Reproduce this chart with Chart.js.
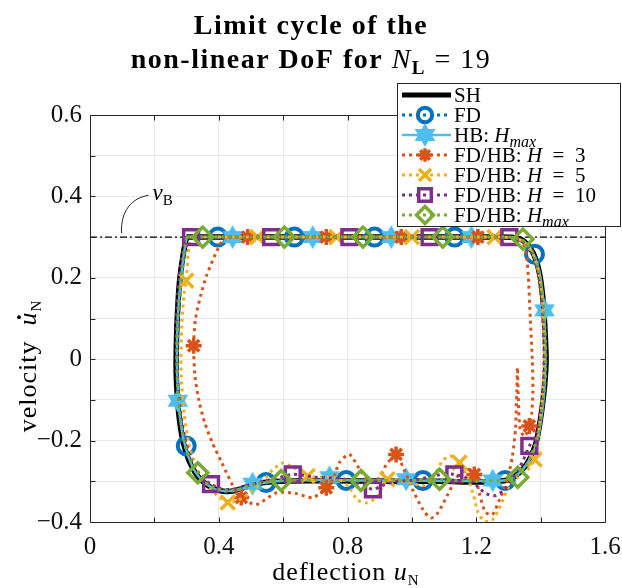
<!DOCTYPE html>
<html>
<head>
<meta charset="utf-8">
<script src="https://cdn.jsdelivr.net/npm/chart.js@4.4.0/dist/chart.umd.min.js"></script>
<style>
    html, body { margin: 0; padding: 0; background: #fff; }
</style>
</head>
<body>
<canvas id="limitCycle" width="622" height="588"></canvas>
<script>
// axis limits and tick labels
const xLimits = [0, 1.6];
const yLimits = [-0.4, 0.6];
const xTickValues = [0, 0.4, 0.8, 1.2, 1.6];
const xTickLabels = ['0', '0.4', '0.8', '1.2', '1.6'];
const yTickValues = [-0.4, -0.2, 0, 0.2, 0.4, 0.6];
const yTickLabels = ['\u22120.4', '\u22120.2', '0', '0.2', '0.4', '0.6'];
const vB = 0.3;

// trajectories [deflection, velocity]
const shPath = [[0.30,0.30],[0.45,0.30],[0.65,0.30],[0.85,0.30],[1.05,0.30],[1.25,0.30],[1.315,0.299],[1.348,0.29],[1.376,0.262],[1.396,0.213],[1.407,0.15],[1.413,0.08],[1.417,0.0],[1.413,-0.06],[1.406,-0.11],[1.397,-0.16],[1.385,-0.208],[1.366,-0.245],[1.345,-0.27],[1.32,-0.288],[1.29,-0.298],[1.2,-0.302],[1.1,-0.3],[0.96,-0.3],[0.8,-0.299],[0.62,-0.299],[0.54,-0.303],[0.495,-0.311],[0.455,-0.322],[0.42,-0.325],[0.39,-0.32],[0.36,-0.307],[0.332,-0.285],[0.308,-0.25],[0.29,-0.205],[0.279,-0.155],[0.272,-0.1],[0.268,-0.04],[0.268,0.02],[0.271,0.1],[0.278,0.19],[0.29,0.26],[0.30,0.30]];
const fdPath = [[0.30,0.30],[0.45,0.30],[0.65,0.30],[0.85,0.30],[1.05,0.30],[1.25,0.30],[1.32,0.298],[1.352,0.285],[1.38,0.255],[1.398,0.205],[1.408,0.14],[1.414,0.06],[1.415,-0.02],[1.41,-0.09],[1.4,-0.15],[1.387,-0.205],[1.368,-0.245],[1.345,-0.272],[1.315,-0.29],[1.28,-0.298],[1.15,-0.3],[1.0,-0.298],[0.85,-0.298],[0.7,-0.298],[0.58,-0.3],[0.51,-0.31],[0.46,-0.322],[0.42,-0.326],[0.385,-0.318],[0.352,-0.3],[0.325,-0.272],[0.305,-0.235],[0.29,-0.19],[0.279,-0.13],[0.272,-0.06],[0.27,0.02],[0.274,0.1],[0.282,0.18],[0.29,0.24],[0.30,0.30]];
const hbPath = [[0.30,0.30],[0.45,0.30],[0.65,0.30],[0.85,0.30],[1.05,0.30],[1.25,0.30],[1.318,0.298],[1.35,0.288],[1.378,0.258],[1.397,0.21],[1.408,0.145],[1.413,0.07],[1.415,-0.01],[1.411,-0.08],[1.403,-0.14],[1.39,-0.2],[1.368,-0.243],[1.345,-0.27],[1.318,-0.289],[1.285,-0.298],[1.15,-0.299],[1.0,-0.298],[0.85,-0.298],[0.7,-0.297],[0.58,-0.3],[0.51,-0.308],[0.46,-0.32],[0.42,-0.324],[0.388,-0.319],[0.356,-0.303],[0.328,-0.278],[0.306,-0.24],[0.29,-0.195],[0.279,-0.14],[0.273,-0.08],[0.27,0.0],[0.272,0.09],[0.28,0.18],[0.29,0.25],[0.30,0.30]];
const h3Path = [[0.42,0.30],[0.6,0.30],[0.8,0.30],[1.0,0.30],[1.2,0.30],[1.31,0.299],[1.342,0.29],[1.356,0.255],[1.362,0.2],[1.368,0.1],[1.374,0.0],[1.376,-0.08],[1.372,-0.135],[1.365,-0.164],[1.35,-0.19],[1.336,-0.17],[1.33,-0.08],[1.328,-0.02],[1.326,-0.08],[1.322,-0.17],[1.312,-0.24],[1.295,-0.3],[1.272,-0.345],[1.25,-0.382],[1.228,-0.375],[1.21,-0.33],[1.194,-0.283],[1.17,-0.27],[1.14,-0.29],[1.11,-0.335],[1.08,-0.378],[1.058,-0.39],[1.035,-0.37],[1.005,-0.325],[0.975,-0.27],[0.951,-0.234],[0.92,-0.26],[0.895,-0.295],[0.87,-0.3],[0.845,-0.28],[0.806,-0.234],[0.775,-0.254],[0.755,-0.295],[0.734,-0.316],[0.692,-0.34],[0.64,-0.33],[0.58,-0.328],[0.516,-0.357],[0.47,-0.34],[0.444,-0.311],[0.41,-0.255],[0.38,-0.205],[0.356,-0.155],[0.338,-0.1],[0.326,-0.04],[0.322,0.033],[0.328,0.1],[0.345,0.16],[0.362,0.205],[0.385,0.25],[0.405,0.283],[0.42,0.30]];
const h5Path = [[0.31,0.30],[0.45,0.30],[0.65,0.30],[0.85,0.30],[1.05,0.30],[1.25,0.30],[1.32,0.298],[1.352,0.285],[1.378,0.255],[1.396,0.205],[1.406,0.14],[1.41,0.06],[1.41,-0.02],[1.405,-0.09],[1.398,-0.15],[1.39,-0.2],[1.381,-0.246],[1.36,-0.272],[1.33,-0.29],[1.3,-0.315],[1.275,-0.36],[1.25,-0.395],[1.225,-0.398],[1.205,-0.375],[1.19,-0.33],[1.17,-0.285],[1.148,-0.254],[1.12,-0.238],[1.095,-0.25],[1.07,-0.285],[1.04,-0.31],[1.0,-0.305],[0.96,-0.298],[0.924,-0.295],[0.89,-0.34],[0.858,-0.353],[0.83,-0.345],[0.8,-0.31],[0.76,-0.29],[0.72,-0.29],[0.676,-0.287],[0.635,-0.268],[0.6,-0.255],[0.57,-0.27],[0.53,-0.305],[0.49,-0.333],[0.455,-0.348],[0.428,-0.352],[0.395,-0.335],[0.36,-0.305],[0.33,-0.265],[0.308,-0.21],[0.292,-0.13],[0.283,-0.03],[0.285,0.08],[0.292,0.16],[0.299,0.193],[0.305,0.26],[0.31,0.30]];
const h10Path = [[0.30,0.30],[0.45,0.30],[0.65,0.30],[0.85,0.30],[1.05,0.30],[1.25,0.30],[1.318,0.298],[1.35,0.285],[1.378,0.255],[1.395,0.2],[1.405,0.13],[1.41,0.05],[1.41,-0.03],[1.405,-0.1],[1.395,-0.16],[1.38,-0.195],[1.365,-0.213],[1.345,-0.25],[1.32,-0.285],[1.29,-0.318],[1.26,-0.335],[1.23,-0.33],[1.2,-0.31],[1.165,-0.29],[1.132,-0.283],[1.1,-0.282],[1.05,-0.29],[1.0,-0.298],[0.95,-0.3],[0.91,-0.31],[0.879,-0.32],[0.85,-0.31],[0.8,-0.296],[0.75,-0.292],[0.7,-0.29],[0.66,-0.285],[0.63,-0.283],[0.59,-0.29],[0.54,-0.3],[0.49,-0.31],[0.44,-0.32],[0.405,-0.318],[0.376,-0.307],[0.345,-0.288],[0.318,-0.255],[0.298,-0.205],[0.283,-0.14],[0.273,-0.06],[0.268,0.03],[0.27,0.12],[0.277,0.2],[0.288,0.26],[0.30,0.30]];
const hmaxPath = [[0.30,0.30],[0.45,0.30],[0.65,0.30],[0.85,0.30],[1.05,0.30],[1.25,0.30],[1.318,0.299],[1.35,0.289],[1.377,0.26],[1.396,0.212],[1.407,0.148],[1.413,0.075],[1.416,0.0],[1.412,-0.07],[1.404,-0.125],[1.393,-0.18],[1.378,-0.222],[1.357,-0.258],[1.329,-0.285],[1.295,-0.297],[1.2,-0.299],[1.086,-0.297],[0.95,-0.298],[0.842,-0.298],[0.7,-0.298],[0.594,-0.298],[0.52,-0.305],[0.47,-0.318],[0.43,-0.323],[0.395,-0.319],[0.362,-0.305],[0.335,-0.279],[0.31,-0.245],[0.292,-0.2],[0.28,-0.145],[0.273,-0.085],[0.27,-0.01],[0.272,0.08],[0.279,0.17],[0.29,0.25],[0.30,0.30]];

// marker positions along each trajectory
const fdMarks = [[0.397,0.30],[0.635,0.30],[0.884,0.30],[1.133,0.30],[1.381,0.258],[1.29,-0.298],[1.034,-0.298],[0.796,-0.298],[0.547,-0.303],[0.299,-0.213]];
const hbMarks = [[0.443,0.30],[0.692,0.30],[0.936,0.30],[1.185,0.30],[1.412,0.12],[1.251,-0.298],[0.982,-0.295],[0.744,-0.29],[0.505,-0.306],[0.273,-0.102]];
const h3Marks = [[0.49,0.30],[0.734,0.30],[0.967,0.30],[1.205,0.30],[1.365,-0.164],[1.194,-0.283],[0.951,-0.234],[0.734,-0.316],[0.47,-0.34],[0.322,0.033]];
const h5Marks = [[0.52,0.30],[0.766,0.30],[1.0,0.30],[1.257,0.30],[1.381,-0.246],[1.148,-0.254],[0.924,-0.295],[0.676,-0.287],[0.428,-0.352],[0.299,0.193]];
const h10Marks = [[0.314,0.30],[0.563,0.30],[0.806,0.30],[1.055,0.30],[1.303,0.30],[1.365,-0.213],[1.132,-0.283],[0.879,-0.32],[0.63,-0.283],[0.376,-0.307]];
const hmaxMarks = [[0.35,0.30],[0.604,0.30],[0.848,0.30],[1.096,0.30],[1.345,0.295],[1.329,-0.29],[1.086,-0.295],[0.842,-0.298],[0.594,-0.298],[0.335,-0.279]];

const SERIF = "'Liberation Serif', 'Times New Roman', serif";

// six-pointed star marker
function makeHexagram(color) {
    const c = document.createElement('canvas');
    c.width = 28; c.height = 28;
    const g = c.getContext('2d');
    g.beginPath();
    for (let k = 0; k < 12; k++) {
        const r = k % 2 === 0 ? 12 : 6.8;
        const ang = -Math.PI / 2 + k * Math.PI / 6;
        const px = 14 + r * Math.cos(ang), py = 14 + r * Math.sin(ang);
        if (k === 0) g.moveTo(px, py); else g.lineTo(px, py);
    }
    g.closePath();
    g.fillStyle = color;
    g.fill();
    return c;
}
const hexImg = makeHexagram('#4DBEEE');

const series = [
    { path: shPath, marks: null, color: '#000000', width: 5.5, dash: [] },
    { path: fdPath, marks: fdMarks, color: '#0072BD', width: 3, dash: [3, 4], point: 'circle', r: 8.5, bw: 4 },
    { path: hbPath, marks: hbMarks, color: '#4DBEEE', width: 2.5, dash: [], point: hexImg, r: 10, bw: 2 },
    { path: h3Path, marks: h3Marks, color: '#D95319', width: 3, dash: [3, 4], point: 'star', r: 8, bw: 3.5 },
    { path: h5Path, marks: h5Marks, color: '#EDB120', width: 3, dash: [3, 4], point: 'crossRot', r: 10, bw: 3.5 },
    { path: h10Path, marks: h10Marks, color: '#7E2F8E', width: 3, dash: [3, 4], point: 'rect', r: 10.5, bw: 3.5 },
    { path: hmaxPath, marks: hmaxMarks, color: '#77AC30', width: 3, dash: [3, 4], point: 'rectRot', r: 10, bw: 3.5 }
];

function toPoints(list) {
    return list.map(p => ({ x: p[0], y: p[1] }));
}

const datasets = [{
    data: [{ x: xLimits[0], y: vB }, { x: xLimits[1], y: vB }],
    showLine: true, pointRadius: 0, borderColor: '#000', borderWidth: 1.2,
    borderDash: [7, 3, 2, 3], order: 200
}];
series.forEach((s, i) => {
    datasets.push({
        data: toPoints(s.path), showLine: true, pointRadius: 0,
        borderColor: s.color, borderWidth: s.width, borderDash: s.dash,
        tension: 0.25, order: 100 - 2 * i
    });
    if (s.marks) {
        datasets.push({
            data: toPoints(s.marks), showLine: false,
            pointStyle: s.point, pointRadius: s.r, pointBorderWidth: s.bw,
            pointBorderColor: s.color, pointBackgroundColor: 'rgba(0,0,0,0)',
            order: 100 - 2 * i - 1
        });
    }
});

function tickLabel(values, labels) {
    return function(v) {
        const i = values.findIndex(t => Math.abs(t - v) < 1e-6);
        return i >= 0 ? labels[i] : '';
    };
}

// draw text made of runs with their own font and baseline shift
function richText(ctx, parts, x, y, align) {
    let w = 0;
    parts.forEach(p => { ctx.font = p[1]; w += ctx.measureText(p[0]).width; });
    let cx = align === 'center' ? x - w / 2 : x;
    parts.forEach(p => {
        ctx.font = p[1];
        const pw = ctx.measureText(p[0]).width;
        ctx.fillText(p[0], cx, y + (p[2] || 0));
        if (p[3] === 'dot') {
            ctx.beginPath();
            ctx.arc(cx + pw * 0.6, y - 17, 1.9, 0, Math.PI * 2);
            ctx.fill();
        }
        cx += pw;
    });
    return w;
}

function drawMarker(ctx, s, x, y) {
    ctx.save();
    ctx.setLineDash([]);
    ctx.strokeStyle = s.color;
    ctx.lineWidth = s.bw;
    const r = s.r;
    ctx.beginPath();
    if (s.point === 'circle') {
        ctx.arc(x, y, r, 0, Math.PI * 2);
    } else if (s.point === 'star') {
        for (let k = 0; k < 4; k++) {
            const a = k * Math.PI / 4;
            ctx.moveTo(x - r * Math.cos(a), y - r * Math.sin(a));
            ctx.lineTo(x + r * Math.cos(a), y + r * Math.sin(a));
        }
    } else if (s.point === 'crossRot') {
        const d = r * Math.SQRT1_2;
        ctx.moveTo(x - d, y - d); ctx.lineTo(x + d, y + d);
        ctx.moveTo(x - d, y + d); ctx.lineTo(x + d, y - d);
    } else if (s.point === 'rect') {
        const d = r * Math.SQRT1_2;
        ctx.rect(x - d, y - d, 2 * d, 2 * d);
    } else if (s.point === 'rectRot') {
        ctx.moveTo(x, y - r); ctx.lineTo(x + r, y); ctx.lineTo(x, y + r); ctx.lineTo(x - r, y); ctx.closePath();
    } else if (s.point) {
        ctx.drawImage(s.point, x - s.point.width / 2, y - s.point.height / 2);
    }
    ctx.stroke();
    ctx.restore();
}

const legendTexts = [
    [['SH', '21px ' + SERIF]],
    [['FD', '21px ' + SERIF]],
    [['HB: ', '21px ' + SERIF], ['H', 'italic 21px ' + SERIF], ['max', 'italic 16px ' + SERIF, 5]],
    [['FD/HB: ', '21px ' + SERIF], ['H', 'italic 21px ' + SERIF], ['  =  3', '21px ' + SERIF]],
    [['FD/HB: ', '21px ' + SERIF], ['H', 'italic 21px ' + SERIF], ['  =  5', '21px ' + SERIF]],
    [['FD/HB: ', '21px ' + SERIF], ['H', 'italic 21px ' + SERIF], ['  =  10', '21px ' + SERIF]],
    [['FD/HB: ', '21px ' + SERIF], ['H', 'italic 21px ' + SERIF], ['max', 'italic 16px ' + SERIF, 5]]
];

const decorations = {
    id: 'decorations',
    afterDraw(chart) {
        const { ctx, chartArea: a, scales: { x, y } } = chart;
        ctx.save();

        // box and inward ticks
        ctx.strokeStyle = '#262626';
        ctx.lineWidth = 1;
        ctx.setLineDash([]);
        const L = Math.round(a.left) + 0.5, R = Math.round(a.right) + 0.5;
        const T = Math.round(a.top) + 0.5, B = Math.round(a.bottom) + 0.5;
        ctx.strokeRect(L, T, R - L, B - T);
        ctx.beginPath();
        x.ticks.forEach(t => {
            const px = Math.round(x.getPixelForValue(t.value)) + 0.5;
            ctx.moveTo(px, B); ctx.lineTo(px, B - 5);
            ctx.moveTo(px, T); ctx.lineTo(px, T + 5);
        });
        y.ticks.forEach(t => {
            const py = Math.round(y.getPixelForValue(t.value)) + 0.5;
            ctx.moveTo(L, py); ctx.lineTo(L + 5, py);
            ctx.moveTo(R, py); ctx.lineTo(R - 5, py);
        });
        ctx.stroke();

        ctx.fillStyle = '#000';
        ctx.textBaseline = 'alphabetic';
        ctx.textAlign = 'left';

        // title
        ctx.letterSpacing = '1.5px';
        richText(ctx, [['Limit cycle of the', 'bold 28px ' + SERIF]], 311, 34, 'center');
        richText(ctx, [['non-linear DoF for ', 'bold 28px ' + SERIF], ['N', 'italic 28px ' + SERIF],
            ['L', 'bold 19px ' + SERIF, 6], [' = 19', '28px ' + SERIF]], 311, 68, 'center');
        ctx.letterSpacing = '1px';

        // axis titles
        richText(ctx, [['deflection ', '26px ' + SERIF], ['u', 'italic 26px ' + SERIF], ['N', '15px ' + SERIF, 5]],
            346, 580, 'center');
        ctx.save();
        ctx.translate(36, 366);
        ctx.rotate(-Math.PI / 2);
        richText(ctx, [['velocity  ', '26px ' + SERIF], ['u', 'italic 26px ' + SERIF, 0, 'dot'], ['N', '15px ' + SERIF, 5]],
            0, 0, 'center');
        ctx.restore();
        ctx.letterSpacing = '0px';

        // v_B annotation
        const p0x = x.getPixelForValue(0.098), p0y = y.getPixelForValue(0.31);
        const p1x = x.getPixelForValue(0.182), p1y = y.getPixelForValue(0.403);
        ctx.beginPath();
        ctx.moveTo(p0x, p0y);
        ctx.bezierCurveTo(p0x - 1, p0y - 22, p0x + 10, p1y + 3, p1x, p1y);
        ctx.stroke();
        richText(ctx, [['v', 'italic 23px ' + SERIF], ['B', '15px ' + SERIF, 5]], p1x + 4, p1y + 5, 'left');

        // legend
        const lx = 397, ly = 83, lw = 223, lh = 143;
        ctx.fillStyle = '#fff';
        ctx.fillRect(lx, ly, lw, lh);
        ctx.strokeStyle = '#262626';
        ctx.lineWidth = 1;
        ctx.strokeRect(lx + 0.5, ly + 0.5, lw, lh);
        series.forEach((s, i) => {
            const ry = 95 + i * 20;
            ctx.save();
            ctx.strokeStyle = s.color;
            ctx.lineWidth = i === 0 ? 5 : s.width;
            ctx.setLineDash(s.dash);
            ctx.beginPath();
            ctx.moveTo(402, ry); ctx.lineTo(451, ry);
            ctx.stroke();
            ctx.restore();
            if (s.marks) drawMarker(ctx, Object.assign({}, s, { r: s.r * 0.85 }), 425, ry);
            ctx.fillStyle = '#000';
            richText(ctx, legendTexts[i], 454, ry + 7, 'left');
        });

        ctx.restore();
    }
};

new Chart(document.getElementById('limitCycle'), {
    type: 'scatter',
    data: { datasets: datasets },
    options: {
        responsive: false,
        animation: false,
        events: [],
        layout: { padding: { left: 0, right: 17, top: 115, bottom: 0 } },
        plugins: {
            legend: { display: false },
            tooltip: { enabled: false }
        },
        scales: {
            x: {
                type: 'linear',
                min: xLimits[0],
                max: xLimits[1],
                afterFit(scale) {
                    scale.height = 66;
                    scale.paddingLeft = 0;
                    scale.paddingRight = 0;
                },
                border: { display: false },
                grid: { color: '#e8e8e8', drawTicks: false },
                ticks: {
                    stepSize: 0.2,
                    autoSkip: false,
                    maxRotation: 0,
                    padding: 10,
                    color: '#111',
                    font: { family: SERIF, size: 25 },
                    callback: tickLabel(xTickValues, xTickLabels)
                }
            },
            y: {
                type: 'linear',
                min: yLimits[0],
                max: yLimits[1],
                afterFit(scale) {
                    scale.width = 90;
                    scale.paddingTop = 0;
                    scale.paddingBottom = 0;
                },
                border: { display: false },
                grid: { color: '#e8e8e8', drawTicks: false },
                ticks: {
                    stepSize: 0.1,
                    autoSkip: false,
                    padding: 8,
                    color: '#111',
                    font: { family: SERIF, size: 25 },
                    callback: tickLabel(yTickValues, yTickLabels)
                }
            }
        }
    },
    plugins: [decorations]
});
</script>
</body>
</html>
